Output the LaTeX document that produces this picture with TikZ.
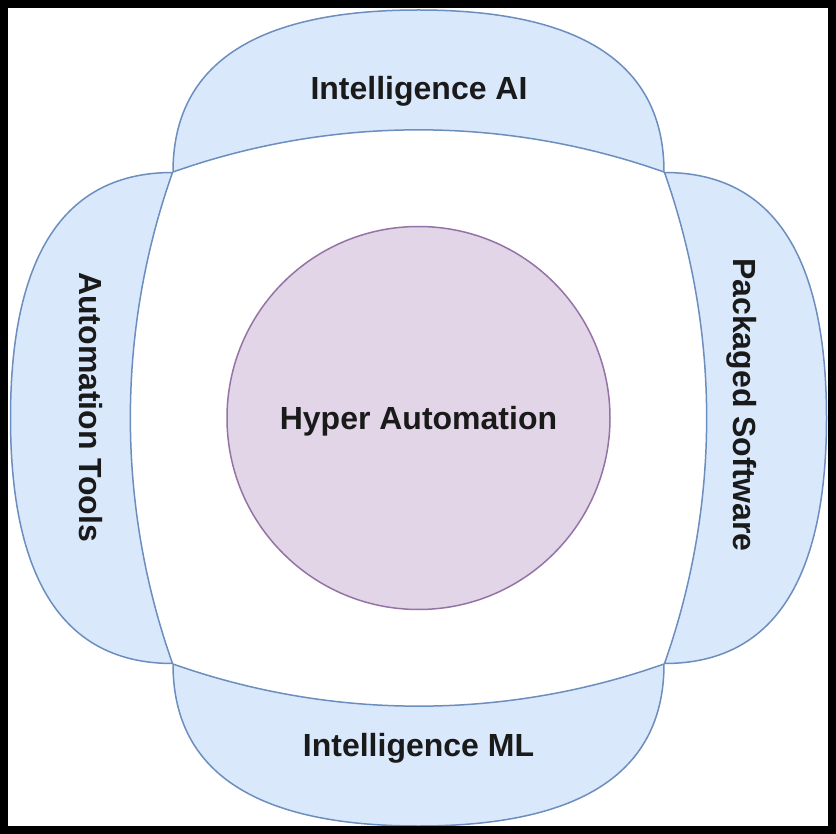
\documentclass[tikz,border=0pt]{standalone}
\usepackage{fontspec}
\setmainfont{Liberation Sans}
\definecolor{petalfill}{HTML}{DAE8FC}
\definecolor{petalline}{HTML}{6C8EBF}
\definecolor{corefill}{HTML}{E1D5E7}
\definecolor{coreline}{HTML}{9673A6}
\definecolor{ink}{HTML}{1A1A1A}
\tikzset{
  petal/.style={fill=petalfill, draw=petalline, line width=1.5pt, line join=round},
  lbl/.style={font=\fontsize{32}{38}\selectfont\bfseries, text=ink, inner sep=0pt,
              text height=23pt, text depth=0pt},
  core/.style={circle, fill=corefill, draw=coreline, line width=1.5pt, inner sep=0pt,
               minimum size=383pt}
}
% one petal, centred on the origin, opening upward
\newcommand{\petalpath}{%
  (-245.5,-246) .. controls (-245.5,-356) and (-160,-408) .. (0,-408)
  .. controls (160,-408) and (245.5,-356) .. (245.5,-246)
  .. controls (86.2,-302.2) and (-86.2,-302.2) .. (-245.5,-246) -- cycle}
\begin{document}
\begin{tikzpicture}[x=1pt,y=-1pt]
  \useasboundingbox (0,0) rectangle (836,834);
  \fill[white] (0,0) rectangle (836,834);

  % four petals around the centre
  \foreach \ang in {0,90,180,270}{
    \begin{scope}[shift={(418.5,418)}, rotate=\ang]
      \path[petal] \petalpath;
    \end{scope}
  }

  % centre circle
  \node[core, lbl, minimum size=383pt] (hyper) at (418.5,418) {Hyper Automation};

  % petal labels
  \node[lbl] (ai) at (419,88) {Intelligence AI};
  \node[lbl] (ml) at (418.5,744.5) {Intelligence ML};
  \node[lbl, rotate=-90] (tools) at (90.5,407) {Automation Tools};
  \node[lbl, rotate=-90] (pkg) at (745,405) {Packaged Software};

  % outer frame
  \draw[line width=8pt] (4,4) rectangle (832,830);
\end{tikzpicture}
\end{document}
